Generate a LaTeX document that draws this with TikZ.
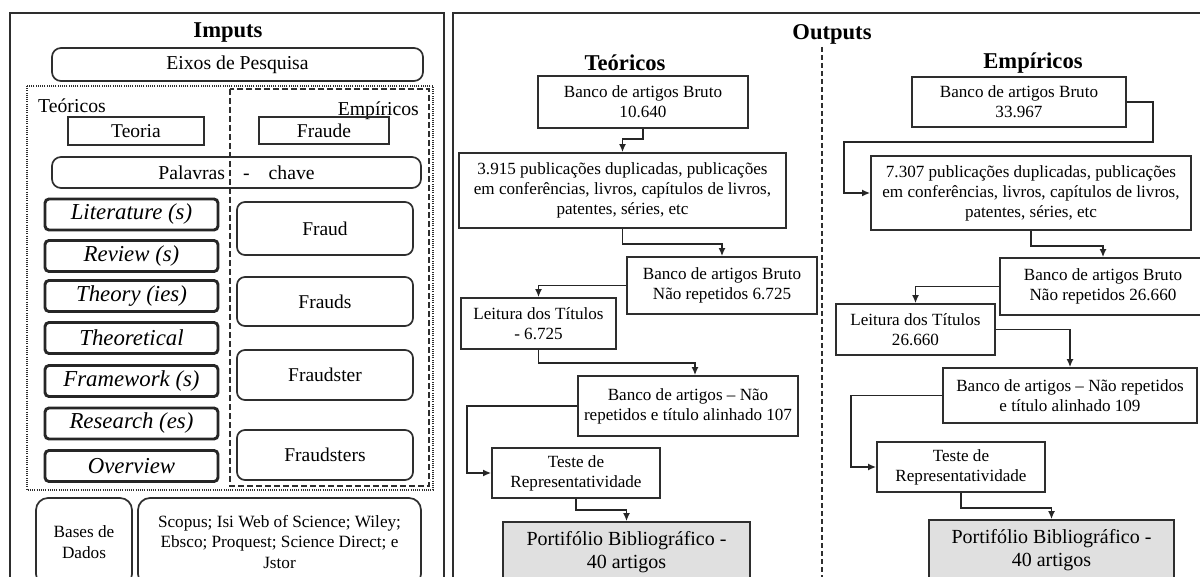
\documentclass[tikz,border=0pt]{standalone}
\usepackage{fontspec}
\setmainfont{Liberation Serif}
\usetikzlibrary{arrows.meta,calc}

\definecolor{ink}{gray}{0.18}
\definecolor{portfolio}{gray}{0.88}

\tikzset{
  panel/.style={draw=ink, line width=1.8pt},
  paneltitle/.style={inner sep=0pt, font=\fontsize{22.6}{26}\selectfont\bfseries},
  plainlabel/.style={inner sep=0pt, font=\fontsize{19.7}{22}\selectfont},
  rbox/.style={draw=ink, line width=1.7pt, rounded corners=9pt, inner sep=0pt,
    align=center, font=\fontsize{19.7}{22}\selectfont},
  kbox/.style={draw=ink, line width=1.6pt, inner sep=0pt, align=center,
    font=\fontsize{19.5}{22}\selectfont},
  ibox/.style={draw=black!85, line width=2.9pt, rounded corners=4pt, inner sep=0pt,
    minimum width=173pt, minimum height=31pt, font=\fontsize{22.8}{26}\selectfont\itshape},
  fraudbox/.style={draw=ink, line width=1.7pt, rounded corners=8pt, inner sep=0pt,
    minimum width=176pt, font=\fontsize{19.5}{22}\selectfont},
  basebox/.style={draw=ink, line width=1.7pt, rounded corners=12pt, inner sep=0pt,
    align=center, minimum height=88pt, font=\fontsize{17.2}{20.5}\selectfont},
  flowbox/.style={draw=ink, line width=1.7pt, inner sep=0pt, align=center,
    font=\fontsize{17.1}{20}\selectfont},
  portbox/.style={flowbox, fill=portfolio, font=\fontsize{20}{22.5}\selectfont},
  arr/.style={draw=black!85, line width=1.6pt, -{Latex[length=8pt,width=7pt]}},
}

\begin{document}
\begin{tikzpicture}[x=1pt,y=-1pt]
\useasboundingbox (0,0) rectangle (1200,577);

% ---------------- Inputs panel ----------------
\draw[panel] (10,13) rectangle (444,600);
\node[paneltitle] (inTitle) at (228,33) {Imputs};
\node[rbox, minimum width=371pt, minimum height=33pt] (eixos) at (237.5,64.5) {Eixos de Pesquisa};

% theoretical (dotted) and empirical (dashed) groups
\draw[ink, line width=1.2pt, dash pattern=on 1pt off 1.2pt] (27,86) rectangle (433,490);
\draw[ink, line width=1.7pt, dash pattern=on 6pt off 3pt] (230,89) rectangle (429,486);

\node[plainlabel, anchor=west] (teoLbl) at (38,106) {Teóricos};
\node[plainlabel, anchor=east] (empLbl) at (419,111) {Empíricos};

\node[kbox, minimum width=136pt, minimum height=28pt] (teoria) at (136,131) {Teoria};
\node[kbox, minimum width=130pt, minimum height=27pt] (fraude) at (324,130.5) {Fraude};

\node[rbox, minimum width=369pt, minimum height=31pt] (palavras) at (236.5,172.5)
  {Palavras\hspace{18pt}-\hspace{19pt}chave};

% theoretical keywords
\node[ibox] (lit)     at (131.5,214.5) {Literature (s)};
\node[ibox] (rev)     at (131.5,256)   {Review (s)};
\node[ibox] (theo)    at (131.5,296)   {Theory (ies)};
\node[ibox] (theoret) at (131.5,338)   {Theoretical};
\node[ibox] (frame)   at (131.5,381)   {Framework (s)};
\node[ibox] (resea)   at (131.5,423.5) {Research (es)};
\node[ibox] (over)    at (131.5,466)   {Overview};

% empirical keywords
\node[fraudbox, minimum height=53pt] (fraud)      at (325,228.5) {Fraud};
\node[fraudbox, minimum height=49pt] (frauds)     at (325,301.5) {Frauds};
\node[fraudbox, minimum height=50pt] (fraudster)  at (325,375)   {Fraudster};
\node[fraudbox, minimum height=50pt] (fraudsters) at (325,455)   {Fraudsters};

% databases
\node[basebox, minimum width=96pt] (bases) at (84,542) {Bases de\\Dados};
\node[basebox, minimum width=283pt] (scopus) at (279.5,542)
  {Scopus; Isi Web of Science; Wiley;\\Ebsco; Proquest; Science Direct; e\\Jstor};

% ---------------- Outputs panel ----------------
\draw[panel] (453,13) rectangle (1215,600);
\node[paneltitle] (outTitle) at (832,34) {Outputs};
\draw[ink, line width=1.5pt, dash pattern=on 5pt off 3pt] (822,47) -- (822,600);

\node[paneltitle] (teoHead) at (625,63) {Teóricos};
\node[paneltitle] (empHead) at (1033,63) {Empíricos};

% theoretical flow
\node[flowbox, minimum width=210pt, minimum height=52pt] (b1) at (643,102)
  {Banco de artigos Bruto\\10.640};
\node[flowbox, minimum width=327pt, minimum height=75pt] (b2) at (622.5,190.5)
  {3.915 publicações duplicadas, publicações\\em conferências, livros, capítulos de livros,\\patentes, séries, etc};
\node[flowbox, minimum width=190pt, minimum height=57pt] (b3) at (722,285.5)
  {Banco de artigos Bruto\\Não repetidos 6.725};
\node[flowbox, minimum width=155pt, minimum height=51pt] (b4) at (538.5,323.5)
  {Leitura dos Títulos\\- 6.725};
\node[flowbox, minimum width=220pt, minimum height=60pt] (b5) at (688,406)
  {Banco de artigos -- Não\\repetidos e título alinhado 107};
\node[flowbox, minimum width=168pt, minimum height=50pt] (b6) at (576,473)
  {Teste de\\Representatividade};
\node[portbox, minimum width=247pt, minimum height=60pt] (b7) at (626.5,552)
  {Portifólio Bibliográfico -\\40 artigos};

\draw[arr] (b1.south) -- ++(0,10) -| (b2.north);
\draw[arr] (b2.south) -- ++(0,15) -| (b3.north);
\draw[arr] (b3.west) -| (b4.north);
\draw[arr] (b4.south) -- ++(0,13) -| ([xshift=7pt]b5.north);
\draw[arr] (b5.west) -- ++(-110,0) |- (b6.west);
\draw[arr] (b6.south) -- ++(0,11) -| (b7.north);

% empirical flow
\node[flowbox, minimum width=214pt, minimum height=50pt] (e1) at (1019,102)
  {Banco de artigos Bruto\\33.967};
\node[flowbox, minimum width=320pt, minimum height=74pt] (e2) at (1031,193)
  {7.307 publicações duplicadas, publicações\\em conferências, livros, capítulos de livros,\\patentes, séries, etc};
\node[flowbox, minimum width=206pt, minimum height=57pt] (e3) at (1103,286.5)
  {Banco de artigos Bruto\\Não repetidos 26.660};
\node[flowbox, minimum width=159pt, minimum height=51pt] (e4) at (915.5,329.5)
  {Leitura dos Títulos\\26.660};
\node[flowbox, minimum width=254pt, minimum height=55pt] (e5) at (1070,395.5)
  {Banco de artigos -- Não repetidos\\e título alinhado 109};
\node[flowbox, minimum width=168pt, minimum height=50pt] (e6) at (961,467)
  {Teste de\\Representatividade};
\node[portbox, minimum width=245pt, minimum height=60pt] (e7) at (1051.5,550)
  {Portifólio Bibliográfico -\\40 artigos};

\draw[arr] (e1.east) -| ++(26,40) -| ([xshift=-26pt]e2.west) -- (e2.west);
\draw[arr] (e2.south) -- ++(0,15) -| (e3.north);
\draw[arr] (e3.west) -| (e4.north);
\draw[arr] (e4.east) -| (e5.north);
\draw[arr] (e5.west) -- ++(-91,0) |- (e6.west);
\draw[arr] (e6.south) -- ++(0,15) -| (e7.north);
\end{tikzpicture}
\end{document}
